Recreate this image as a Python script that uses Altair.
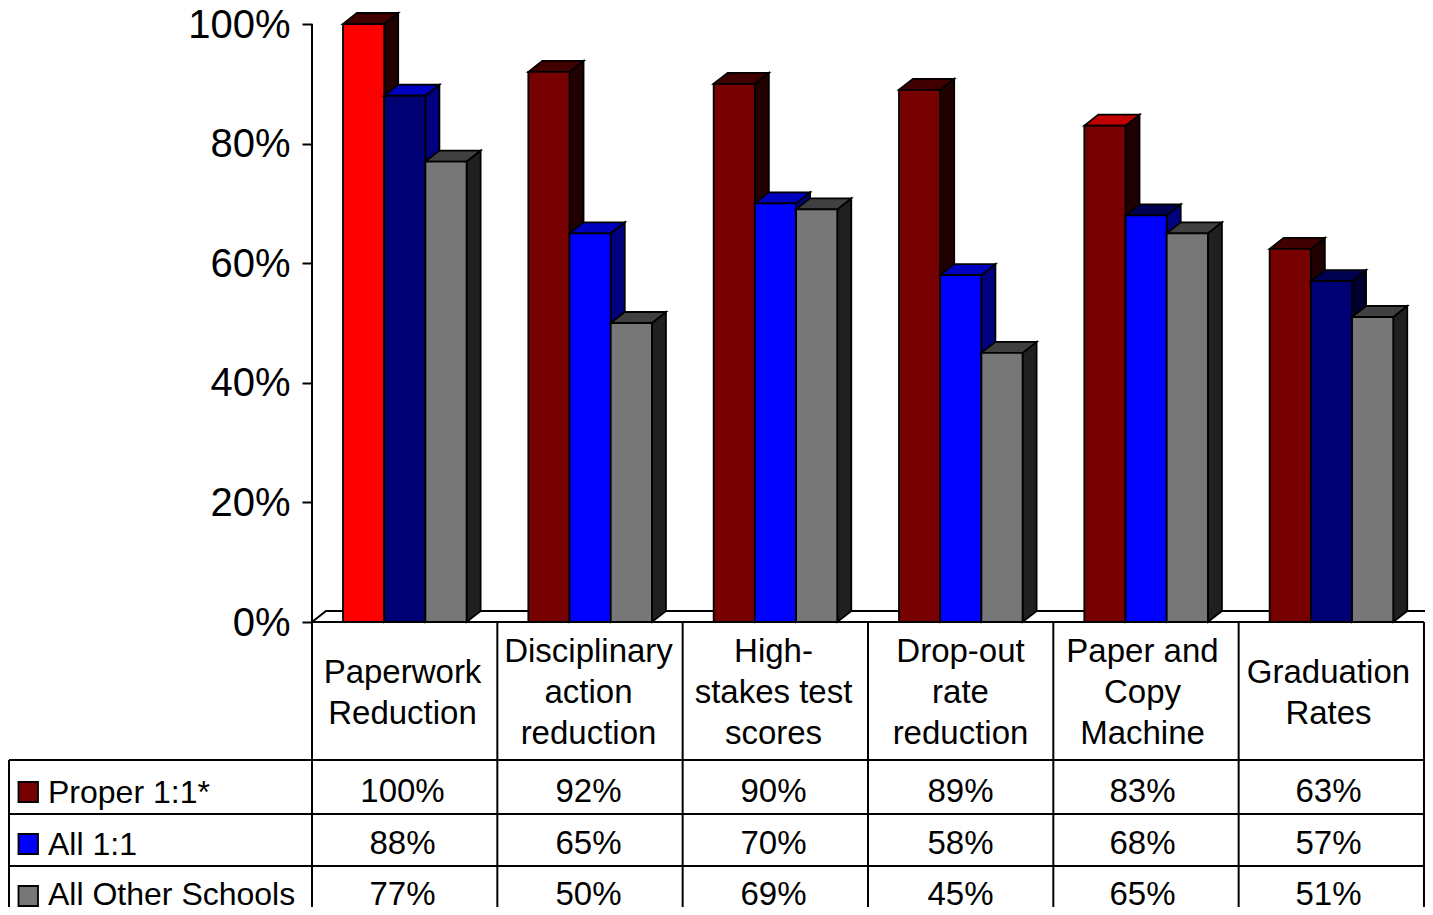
import altair as alt
import pandas as pd

categories = [["Paperwork", "Reduction"],
              ["Disciplinary", "action", "reduction"],
              ["High-", "stakes test", "scores"],
              ["Drop-out", "rate", "reduction"],
              ["Paper and", "Copy", "Machine"],
              ["Graduation", "Rates"]]
series = ["Proper 1:1*", "All 1:1", "All Other Schools"]
proper_vals = [100, 92, 90, 89, 83, 62.4]
all_vals = [88, 65, 70, 58, 68, 57]
other_vals = [77, 50, 69, 45, 65, 51]
proper_lbl = ["100%", "92%", "90%", "89%", "83%", "63%"]
all_lbl = ["88%", "65%", "70%", "58%", "68%", "57%"]
other_lbl = ["77%", "50%", "69%", "45%", "65%", "51%"]
legend_cols = ["#770000", "#0000ff", "#777777"]
front = [["#ff0000", "#770000", "#770000", "#770000", "#770000", "#770000"],
         ["#000075", "#0000ff", "#0000ff", "#0000ff", "#0000ff", "#000075"],
         ["#777777"] * 6]
top = [["#400000", "#400000", "#400000", "#400000", "#c00000", "#400000"],
       ["#0000c0", "#0000c0", "#0000c0", "#0000c0", "#000050", "#000050"],
       ["#404040"] * 6]
side = [["#200000"] * 6,
        ["#000080", "#000080", "#000080", "#000080", "#000080", "#000030"],
        ["#202020"] * 6]

# layout
PITCH, PPP = 185.33, 5.98
W, H, X0, Y0 = 1113, 899, 312, 622
BOTTOM = 8 + H
def ux(px): return (px - X0) / PITCH
def uy(py): return (Y0 - py) / PPP
BAR_OFF, BAR_W = ux(343.0), 41.2 / PITCH
DX, DV = 14 / PITCH, 11 / PPP
TEXT_X = [402.5, 588.5, 773.5, 960.5, 1142.5, 1328.5]

xs = alt.Scale(domain=[0, W / PITCH], nice=False, zero=False)
ys = alt.Scale(domain=[uy(BOTTOM), uy(8)], nice=False, zero=False)
def X(f="x", **k): return alt.X(f"{f}:Q", scale=xs, axis=None, **k)
def Y(f="y", **k): return alt.Y(f"{f}:Q", scale=ys, title=None, **k)
C = alt.Color("color:N", scale=None)
FONT = "Liberation Sans"

layers = []

# axis + axis line
layers.append(alt.Chart(pd.DataFrame({"y": [0.0], "y2": [100.0], "x": [0.0]})).mark_rule(
    color="black", strokeWidth=2).encode(
    x=X(),
    y=alt.Y("y:Q", scale=ys, title=None, axis=alt.Axis(
        values=[0, 20, 40, 60, 80, 100], labelExpr="datum.value + '%'", grid=False, domain=False,
        tickSize=10, tickWidth=2, tickColor="black", labelColor="black", labelFont=FONT,
        labelFontSize=40, labelPadding=12, labelOffset=1, title=None)),
    y2="y2:Q"))

# floor
floor = pd.DataFrame({"x": [0, DX, W / PITCH], "y": [0, DV, DV], "o": [0, 1, 2]})
layers.append(alt.Chart(floor).mark_line(color="black", strokeWidth=2).encode(x=X(), y=Y(), order="o:Q"))

# bars
for s, vals in enumerate([proper_vals, all_vals, other_vals]):
    faces, fronts = [], []
    for i, v in enumerate(vals):
        xl = i + BAR_OFF + s * BAR_W
        xr = xl + BAR_W
        for x_, y_, y2_ in [(xr, v, 0), (xr + DX, v + DV, DV)]:
            faces.append(dict(bar=f"s{i}", x=x_, y=y_, y2=y2_, color=side[s][i]))
        for x_, y_, y2_ in [(xl, v, v), (xl + DX, v + DV, v), (xr, v + DV, v), (xr + DX, v + DV, v + DV)]:
            faces.append(dict(bar=f"t{i}", x=x_, y=y_, y2=y2_, color=top[s][i]))
        fronts.append(dict(x=xl, x2=xr, y=v, y2=0, color=front[s][i]))
    layers.append(alt.Chart(pd.DataFrame(faces)).mark_area(
        stroke="black", strokeWidth=1.8, opacity=1, interpolate="linear", strokeJoin="miter").encode(
        x=X(), y=Y(), y2="y2:Q", color=C, detail="bar:N"))
    layers.append(alt.Chart(pd.DataFrame(fronts)).mark_rect(
        stroke="black", strokeWidth=1.8).encode(x=X(), x2="x2:Q", y=Y(), y2="y2:Q", color=C))

# table lines
rows_y = [760, 814, 866]
lines = [dict(x=0, x2=6, y=0, y2=0)]
lines += [dict(x=ux(9), x2=6, y=uy(p), y2=uy(p)) for p in rows_y]
lines += [dict(x=ux(9), x2=ux(9), y=uy(760), y2=uy(BOTTOM))]
lines += [dict(x=0, x2=0, y=0, y2=uy(BOTTOM))]
lines += [dict(x=k, x2=k, y=0, y2=uy(BOTTOM)) for k in range(1, 7)]
layers.append(alt.Chart(pd.DataFrame(lines)).mark_rule(color="black", strokeWidth=2).encode(
    x=X(), x2="x2:Q", y=Y(), y2="y2:Q"))

# category labels
base_two, base_three = [683, 724], [662, 703, 744]
tx = []
for i, parts in enumerate(categories):
    bl = base_two if len(parts) == 2 else base_three
    for t, b in zip(parts, bl):
        tx.append(dict(x=ux(TEXT_X[i]), y=uy(b), t=t))
# table values
val_base = [802, 854, 905]
for lbls, b in zip([proper_lbl, all_lbl, other_lbl], val_base):
    for i, t in enumerate(lbls):
        tx.append(dict(x=ux(TEXT_X[i]), y=uy(b), t=t))
layers.append(alt.Chart(pd.DataFrame(tx)).mark_text(
    font=FONT, fontSize=33, color="black", align="center", baseline="alphabetic").encode(
    x=X(), y=Y(), text="t:N"))

# legend
leg_base = [803, 855, 905]
layers.append(alt.Chart(pd.DataFrame([dict(x=ux(48), y=uy(b), t=t) for t, b in zip(series, leg_base)])).mark_text(
    font=FONT, fontSize=32, color="black", align="left", baseline="alphabetic").encode(
    x=X(), y=Y(), text="t:N"))
sw = [dict(x=ux(18.5), x2=ux(38), y=uy(c - 10), y2=uy(c + 10), color=col)
      for c, col in zip([792, 844, 896], legend_cols)]
layers.append(alt.Chart(pd.DataFrame(sw)).mark_rect(stroke="black", strokeWidth=1.8).encode(
    x=X(), x2="x2:Q", y=Y(), y2="y2:Q", color=C))

chart = alt.layer(*layers).properties(
    width=W, height=H,
    autosize=alt.AutoSizeParams(type="none"),
    padding={"left": X0 - 8, "top": 0, "right": 0, "bottom": 0},
).configure_view(stroke=None)

chart.save("out.html", embed_options={"renderer": "svg", "actions": False})
